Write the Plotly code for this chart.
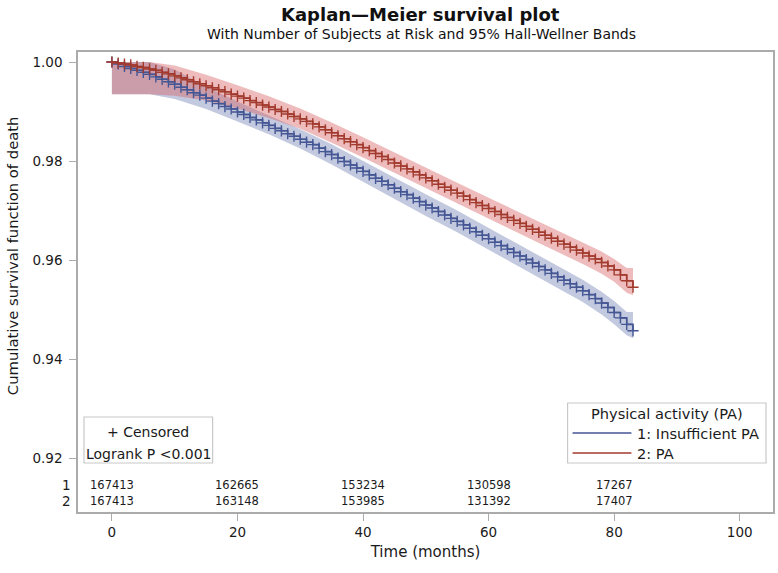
import plotly.graph_objects as go

# ---------------- data ----------------
months = list(range(0, 84))

surv_insufficient = [
    1.0000, 0.9996, 0.9991, 0.9987, 0.9983, 0.9979, 0.9975, 0.9970, 0.9965, 0.9960,
    0.9955, 0.9949, 0.9944, 0.9938, 0.9933, 0.9927, 0.9921, 0.9916, 0.9910, 0.9905,
    0.9899, 0.9894, 0.9888, 0.9883, 0.9877, 0.9872, 0.9866, 0.9861, 0.9855, 0.9850,
    0.9844, 0.9838, 0.9833, 0.9826, 0.9819, 0.9813, 0.9806, 0.9799, 0.9792, 0.9786,
    0.9779, 0.9772, 0.9765, 0.9759, 0.9752, 0.9745, 0.9738, 0.9732, 0.9725, 0.9718,
    0.9711, 0.9705, 0.9698, 0.9691, 0.9684, 0.9678, 0.9671, 0.9664, 0.9657, 0.9650,
    0.9643, 0.9636, 0.9629, 0.9622, 0.9615, 0.9608, 0.9601, 0.9594, 0.9587, 0.9580,
    0.9573, 0.9566, 0.9559, 0.9552, 0.9545, 0.9538, 0.9530, 0.9522, 0.9513, 0.9504,
    0.9494, 0.9483, 0.9470, 0.9457,
]

surv_pa = [
    1.0000, 0.9998, 0.9996, 0.9994, 0.9991, 0.9989, 0.9986, 0.9983, 0.9979, 0.9976,
    0.9972, 0.9968, 0.9964, 0.9960, 0.9956, 0.9952, 0.9948, 0.9944, 0.9940, 0.9935,
    0.9931, 0.9927, 0.9922, 0.9918, 0.9913, 0.9909, 0.9904, 0.9900, 0.9895, 0.9890,
    0.9885, 0.9880, 0.9875, 0.9869, 0.9863, 0.9857, 0.9851, 0.9845, 0.9839, 0.9833,
    0.9827, 0.9821, 0.9815, 0.9809, 0.9803, 0.9796, 0.9790, 0.9784, 0.9778, 0.9772,
    0.9766, 0.9760, 0.9753, 0.9747, 0.9741, 0.9735, 0.9729, 0.9722, 0.9716, 0.9710,
    0.9704, 0.9698, 0.9692, 0.9686, 0.9680, 0.9674, 0.9668, 0.9662, 0.9656, 0.9650,
    0.9644, 0.9638, 0.9632, 0.9626, 0.9620, 0.9614, 0.9608, 0.9602, 0.9595, 0.9588,
    0.9580, 0.9570, 0.9558, 0.9545,
]

band_times = [0, 6, 10, 15, 20, 25, 30, 35, 40, 45, 50, 55, 60, 65, 70, 75, 78, 80, 82, 83]
band_lo_insufficient = [0.9935, 0.9935, 0.9925, 0.9905, 0.9880, 0.9854, 0.9825, 0.9793, 0.9758, 0.9723,
                        0.9689, 0.9656, 0.9621, 0.9586, 0.9551, 0.9515, 0.9490, 0.9470, 0.9448, 0.9442]
band_hi_insufficient = [1.0000, 1.0000, 0.9985, 0.9950, 0.9920, 0.9892, 0.9864, 0.9834, 0.9800, 0.9767,
                        0.9733, 0.9700, 0.9665, 0.9630, 0.9595, 0.9560, 0.9536, 0.9517, 0.9495, 0.9495]
band_lo_pa = [0.9935, 0.9935, 0.9932, 0.9922, 0.9906, 0.9887, 0.9865, 0.9837, 0.9807, 0.9776,
              0.9746, 0.9714, 0.9683, 0.9652, 0.9622, 0.9592, 0.9572, 0.9556, 0.9534, 0.9529]
band_hi_pa = [1.0000, 1.0000, 0.9993, 0.9974, 0.9953, 0.9931, 0.9906, 0.9878, 0.9848, 0.9817,
              0.9787, 0.9756, 0.9726, 0.9696, 0.9666, 0.9636, 0.9617, 0.9602, 0.9584, 0.9584]

risk_times = [0, 20, 40, 60, 80]
risk_insufficient = [167413, 162665, 153234, 130598, 17267]
risk_pa = [167413, 163148, 153985, 131392, 17407]

x_ticks = [0, 20, 40, 60, 80, 100]
y_ticks = [0.92, 0.94, 0.96, 0.98, 1.00]

group_names = ["1: Insufficient PA", "2: PA"]
line_colors = ["#445694", "#A23A2E"]
band_colors = ["rgba(111,126,179,0.42)", "rgba(214,96,96,0.42)"]

FONT = "DejaVu Sans, Liberation Sans, sans-serif"
TXT = "#1a1a1a"

# ---------------- figure ----------------
fig = go.Figure()

bands = [(band_lo_insufficient, band_hi_insufficient), (band_lo_pa, band_hi_pa)]
for (lo, hi), bc, nm in zip(bands, band_colors, group_names):
    fig.add_trace(go.Scatter(x=band_times, y=hi, mode="lines", line=dict(width=0),
                             hoverinfo="skip", showlegend=False))
    fig.add_trace(go.Scatter(x=band_times, y=lo, mode="lines", line=dict(width=0),
                             fill="tonexty", fillcolor=bc, hoverinfo="skip", showlegend=False,
                             name=nm + " band"))

for s, lc, nm in zip([surv_insufficient, surv_pa], line_colors, group_names):
    fig.add_trace(go.Scatter(
        x=months, y=s, mode="lines+markers", name=nm, showlegend=False,
        line=dict(color=lc, width=1.6, shape="hv"),
        marker=dict(symbol="cross-thin", size=8, line=dict(color=lc, width=1.4)),
    ))

# body margin is removed by post_script, so page pixels == figure pixels
W, H = 778, 573
PL, PT, PR, PB = 78, 52, 775, 512          # plot frame in page pixels
ML, MT = PL, PT
PW, PH = PR - PL, PB - PT
MR, MB = W - ML - PW, H - MT - PH


def px(xp):
    return (xp - PL) / PW


def py(yp):
    return (PB - yp) / PH


def txt(x, y, text, size, xanchor="center", xref="paper", angle=0, color=TXT, family=FONT):
    return dict(x=x, xref=xref, y=py(y), yref="paper", text=text, textangle=angle,
                showarrow=False, font=dict(family=family, size=size, color=color),
                xanchor=xanchor, yanchor="middle")


annotations = []
# at-risk table
for row_vals, row_y, lab in [(risk_insufficient, 485, "1"), (risk_pa, 501, "2")]:
    for t, v in zip(risk_times, row_vals):
        annotations.append(txt(t, row_y, str(v), 11.5, xref="x"))
    annotations.append(txt(px(73), row_y, lab, 13.5, xanchor="right"))

# y-axis title
annotations.append(txt(px(12), 256, "Cumulative survival function of death", 14.8, angle=-90))

# censored / logrank box text
annotations.append(txt(px(148.5), 432, "+ Censored", 14))
annotations.append(txt(px(148.5), 454, "Logrank P &lt;0.001", 14))

# legend
annotations.append(txt(px(668.5), 413, "Physical activity (PA)", 14.6))
shapes = []
for nm, lc, yy in zip(group_names, line_colors, [433, 453]):
    annotations.append(txt(px(637), yy, nm, 14.6, xanchor="left"))
    shapes.append(dict(type="line", xref="paper", yref="paper", x0=px(574), x1=px(633),
                       y0=py(yy), y1=py(yy), line=dict(color=lc, width=1.6)))

shapes.append(dict(type="rect", xref="paper", yref="paper", x0=px(569), x1=px(768),
                   y0=py(463), y1=py(403), line=dict(color="#C8C8C8", width=1.2)))
shapes.append(dict(type="rect", xref="paper", yref="paper", x0=px(84), x1=px(213),
                   y0=py(463), y1=py(417), line=dict(color="#C8C8C8", width=1.2)))

# titles
annotations.append(txt(px(421), 14, "<b>Kaplan—Meier survival plot</b>", 18, color="#111"))
annotations.append(txt(px(422), 34, "With Number of Subjects at Risk and 95% Hall-Wellner Bands", 14, color="#111"))

axis_common = dict(showgrid=False, zeroline=False, showline=True, mirror=True,
                   linecolor="#ABABAB", linewidth=1.5, ticks="outside", ticklen=7,
                   tickcolor="#ABABAB", tickfont=dict(family=FONT, size=13.5, color=TXT))

fig.update_layout(
    width=W, height=H,
    margin=dict(l=ML, r=MR, t=MT, b=MB),
    paper_bgcolor="white", plot_bgcolor="white",
    font=dict(family=FONT, size=14, color=TXT),
    annotations=annotations, shapes=shapes,
    showlegend=False,
    xaxis=dict(range=[-5.4, 105.3], tickvals=x_ticks, ticktext=[str(v) for v in x_ticks],
               title=dict(text="Time (months)", font=dict(family=FONT, size=15, color=TXT), standoff=8),
               **axis_common),
    yaxis=dict(range=[0.90909, 1.00202], tickvals=y_ticks, ticktext=["%.2f" % v for v in y_ticks],
               ticklabelstandoff=4, **axis_common),
)

fig.write_html("out.html", config={"displayModeBar": False},
               post_script="document.body.style.margin='0px';document.body.style.padding='0px';")
